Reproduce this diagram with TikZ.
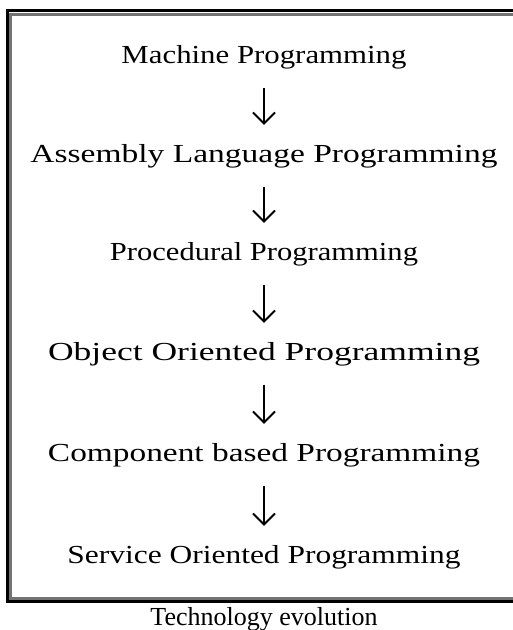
\documentclass[tikz,border=0pt]{standalone}
\usepackage{fontspec}
\setmainfont{Liberation Serif}
\usetikzlibrary{arrows.meta}
% stretch a label horizontally to a given width, keeping its height
\newcommand\fitw[2]{\resizebox{#1}{\height}{#2}}
\begin{document}
\begin{tikzpicture}[x=1pt,y=-1pt,
  stage/.style={anchor=base, inner sep=0pt, font=\fontsize{26}{30}\selectfont},
  flow/.style={-{Straight Barb[length=11pt,width=22pt,line width=1.8pt]},
               line width=1.8pt, shorten <=19pt, shorten >=19pt},
  outerframe/.style={line width=3pt, black},
  innerframe/.style={line width=2.4pt, black!55},
  caption/.style={anchor=base, inner sep=0pt, font=\fontsize{26}{30}\selectfont}]
\useasboundingbox (0,0) rectangle (513,630);

% double frame, open on the right
\draw[innerframe] (520,14.5) -- (10.5,14.5) -- (10.5,598.5) -- (520,598.5);
\draw[outerframe] (520,10) -- (7.5,10) -- (7.5,601.5) -- (520,601.5);

% stages
\node[stage] (m) at (264,63)  {\fitw{285pt}{Machine Programming}};
\node[stage] (a) at (264,162) {\fitw{467pt}{Assembly Language Programming}};
\node[stage] (p) at (264,260) {\fitw{308pt}{Procedural Programming}};
\node[stage] (o) at (264,360) {\fitw{432pt}{Object Oriented Programming}};
\node[stage] (c) at (264,461) {\fitw{432pt}{Component based Programming}};
\node[stage] (s) at (264,563) {\fitw{393pt}{Service Oriented Programming}};

% arrows between stages
\draw[flow] (m.south) -- (a.north);
\draw[flow] (a.south) -- (p.north);
\draw[flow] (p.south) -- (o.north);
\draw[flow] (o.south) -- (c.north);
\draw[flow] (c.south) -- (s.north);

% caption
\node[caption] (cap) at (264,625) {Technology evolution};
\end{tikzpicture}
\end{document}
